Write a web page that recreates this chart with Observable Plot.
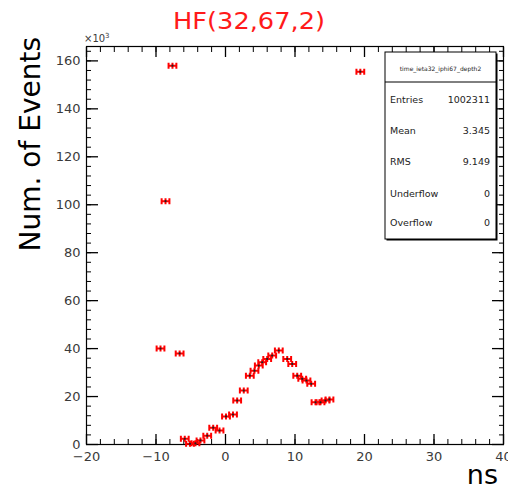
<!DOCTYPE html>
<html>
<head>
<meta charset="utf-8">
<script src="https://cdn.jsdelivr.net/npm/d3@7"></script>
<script src="https://cdn.jsdelivr.net/npm/@observablehq/plot@0.6"></script>
<style>
  html, body { margin: 0; padding: 0; background: white; }
  #chart { position: relative; width: 508px; height: 490px; }
</style>
</head>
<body>
<div id="chart"></div>
<script>
// ---- data (time in ns, counts in thousands) ----
const binCenters = [-9.35, -8.63, -7.63, -6.6, -5.86, -5.11, -4.32, -3.6, -2.63, -1.77, -0.86, 0.07, 1.08, 1.68, 2.63, 3.5, 4.17, 4.79, 5.28, 6.0, 6.72, 7.67, 8.88, 9.6, 10.32, 11.04, 11.65, 12.33, 12.95, 13.67, 14.39, 14.96, 19.4];
const counts = [40, 101.5, 158, 38, 2.4, 0.3, 0.5, 1.7, 3.7, 7, 5.8, 11.7, 12.5, 18.3, 22.5, 28.7, 30.8, 32.9, 34.3, 35.7, 37.1, 39.2, 35.7, 33.6, 28.7, 27.4, 26.7, 25.3, 17.6, 17.6, 18.3, 18.8, 155.5];
const xMajorTicks = [-20, -10, 0, 10, 20, 30, 40];
const xMinorTicks = d3.range(-20, 40.01, 2);
const yMajorTicks = [0, 20, 40, 60, 80, 100, 120, 140, 160];
const yMinorTicks = d3.range(0, 166, 4);
const titleText = "HF(32,67,2)";
const statsName = "time_ieta32_iphi67_depth2";
const statsLabels = ["Entries", "Mean", "RMS", "Underflow", "Overflow"];
const statsValues = ["1002311", "3.345", "9.149", "0", "0"];

const points = binCenters.map((x, i) => ({x, y: counts[i]}));

const hSymbol = {
  draw(ctx) {
    const w = 3.9, h = 3;
    ctx.moveTo(-w, 0); ctx.lineTo(w, 0);
    ctx.moveTo(-w, -h); ctx.lineTo(-w, h);
    ctx.moveTo(w, -h); ctx.lineTo(w, h);
    ctx.moveTo(0, -h); ctx.lineTo(0, h);
  }
};

const font = "DejaVu Sans";
const tickColor = "#3a3a3a";

const chart = Plot.plot({
  width: 508,
  height: 490,
  marginLeft: 86,
  marginRight: 5,
  marginTop: 46,
  marginBottom: 46,
  style: {fontFamily: font, background: "white", overflow: "visible"},
  x: {domain: [-20, 40]},
  y: {domain: [0, 166]},
  marks: [
    Plot.frame({stroke: "black", strokeWidth: 1.2}),
    // bottom axis
    Plot.axisX({ticks: xMinorTicks, anchor: "bottom", tickSize: -5, tickFormat: () => "", label: null, stroke: "black"}),
    Plot.axisX({ticks: xMajorTicks, anchor: "bottom", tickSize: -10, tickFormat: () => "", label: null, stroke: "black", strokeWidth: 1.3}),
    Plot.axisX({ticks: xMajorTicks, anchor: "bottom", tickSize: 0, tickPadding: 7, fontSize: 13, fill: tickColor, label: null}),
    // top axis (ticks only)
    Plot.axisX({ticks: xMinorTicks, anchor: "top", tickSize: -5, tickFormat: () => "", label: null, stroke: "black"}),
    Plot.axisX({ticks: xMajorTicks, anchor: "top", tickSize: -10, tickFormat: () => "", label: null, stroke: "black", strokeWidth: 1.3}),
    // left axis
    Plot.axisY({ticks: yMinorTicks, anchor: "left", tickSize: -5, tickFormat: () => "", label: null, stroke: "black"}),
    Plot.axisY({ticks: yMajorTicks, anchor: "left", tickSize: -12, tickFormat: () => "", label: null, stroke: "black", strokeWidth: 1.3}),
    Plot.axisY({ticks: yMajorTicks, anchor: "left", tickSize: 0, tickPadding: 6, fontSize: 13, fill: tickColor, label: null}),
    // right axis (ticks only)
    Plot.axisY({ticks: yMinorTicks, anchor: "right", tickSize: -5, tickFormat: () => "", label: null, stroke: "black"}),
    Plot.axisY({ticks: yMajorTicks, anchor: "right", tickSize: -12, tickFormat: () => "", label: null, stroke: "black", strokeWidth: 1.3}),
    // data
    Plot.dot(points, {x: "x", y: "y", symbol: hSymbol, r: 4, fill: "none", stroke: "#ff0000", strokeWidth: 2}),
    Plot.dot(points, {x: "x", y: "y", r: 1.1, fill: "#222", stroke: "none"})
  ]
});

document.getElementById("chart").appendChild(chart);

// ---- annotations (title, axis titles, stats box) ----
const svg = d3.select(chart);

svg.append("text")
  .attr("x", 173).attr("y", 29)
  .attr("text-anchor", "start")
  .attr("font-family", font).attr("font-size", 23)
  .attr("fill", "#ff1a1a")
  .attr("textLength", 152).attr("lengthAdjust", "spacingAndGlyphs")
  .text(titleText);

svg.append("text")
  .attr("transform", "translate(40,37) rotate(-90)")
  .attr("text-anchor", "end")
  .attr("font-family", font).attr("font-size", 28)
  .attr("fill", "black")
  .text("Num. of Events");

svg.append("text")
  .attr("x", 498).attr("y", 484)
  .attr("text-anchor", "end")
  .attr("font-family", font).attr("font-size", 27)
  .attr("fill", "black")
  .text("ns");

const exp = svg.append("text")
  .attr("x", 84).attr("y", 42)
  .attr("text-anchor", "start")
  .attr("font-family", font).attr("font-size", 10)
  .attr("fill", tickColor);
exp.append("tspan").text("×10");
exp.append("tspan").attr("dy", -4).attr("font-size", 7).text("3");

// stats box
const bx = 385, by = 52, bw = 111, bh = 187, hh = 30;
const g = svg.append("g");
g.append("rect").attr("x", bx + 1.5).attr("y", by + 1.5).attr("width", bw).attr("height", bh).attr("fill", "black");
g.append("rect").attr("x", bx).attr("y", by).attr("width", bw).attr("height", bh).attr("fill", "white").attr("stroke", "black").attr("stroke-width", 1);
g.append("line").attr("x1", bx).attr("x2", bx + bw).attr("y1", by + hh).attr("y2", by + hh).attr("stroke", "black");
g.append("text")
  .attr("x", bx + bw / 2).attr("y", by + 19)
  .attr("text-anchor", "middle")
  .attr("font-family", font).attr("font-size", 6)
  .attr("fill", "#222")
  .text(statsName);
const rowY = [103, 134, 165, 197, 226];
statsLabels.forEach((lab, i) => {
  g.append("text").attr("x", bx + 5).attr("y", rowY[i])
    .attr("text-anchor", "start")
    .attr("font-family", font).attr("font-size", 9.5).attr("fill", "#222").text(lab);
  g.append("text").attr("x", bx + bw - 6).attr("y", rowY[i])
    .attr("text-anchor", "end")
    .attr("font-family", font).attr("font-size", 9.5).attr("fill", "#222").text(statsValues[i]);
});
</script>
</body>
</html>
